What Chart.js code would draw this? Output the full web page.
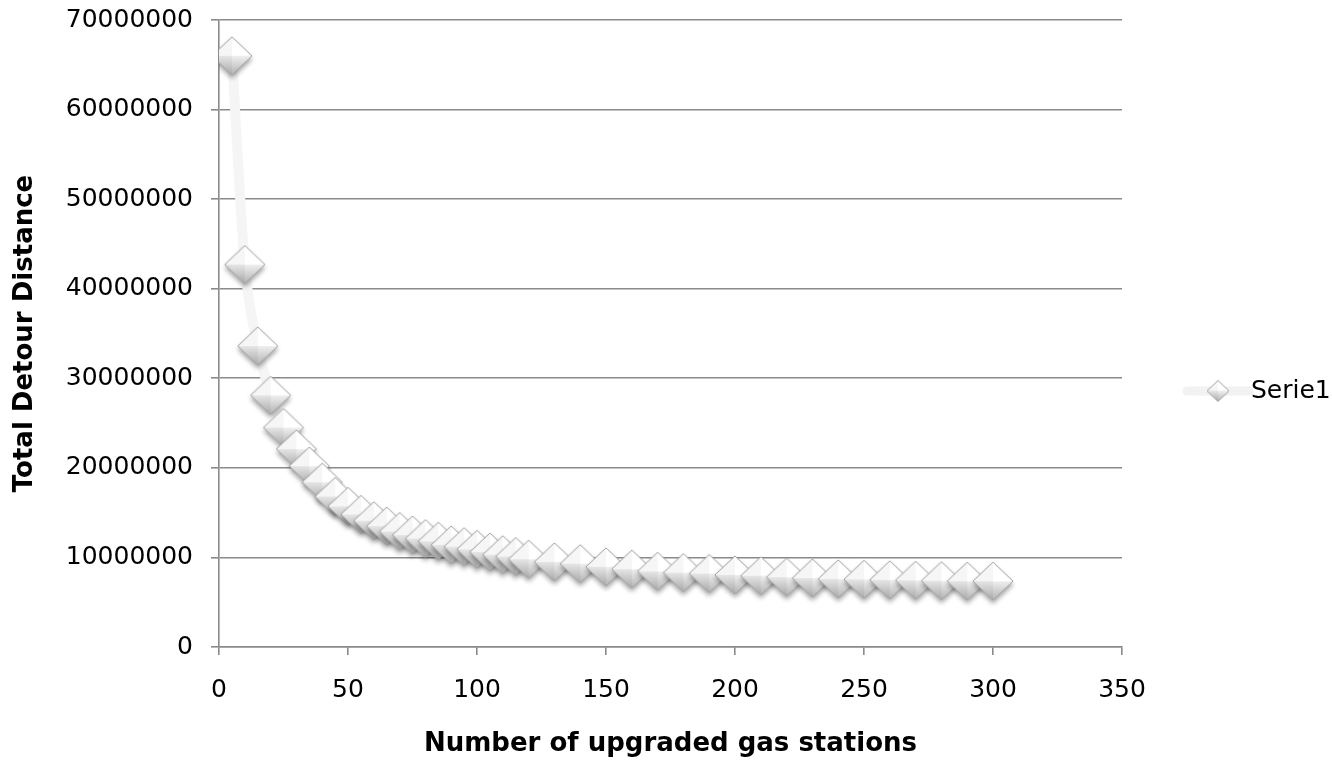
<!DOCTYPE html>
<html lang="en">
<head>
<meta charset="UTF-8">
<title>Total Detour Distance</title>
<script src="https://cdn.jsdelivr.net/npm/chart.js"></script>
<style>
    html, body { margin: 0; padding: 0; background: #fff; }
    #detourChart { display: block; }
</style>
</head>
<body>
<canvas id="detourChart" width="1332" height="761"></canvas>
<script>
// number of upgraded stations and the total detour for each run
const stations = [5, 10, 15, 20, 25, 30, 35, 40, 45, 50, 55, 60, 65, 70, 75, 80, 85, 90, 95, 100,
    105, 110, 115, 120, 130, 140, 150, 160, 170, 180, 190, 200, 210, 220, 230, 240, 250, 260, 270, 280, 290, 300];
const detour = [66000000, 42700000, 33600000, 28100000, 24500000, 22100000, 20200000, 18400000, 16800000, 15700000,
    14800000, 14100000, 13500000, 12900000, 12500000, 12100000, 11800000, 11400000, 11200000, 10900000,
    10600000, 10300000, 10100000, 9800000, 9500000, 9300000, 8950000, 8700000, 8450000, 8300000,
    8200000, 8050000, 7950000, 7800000, 7700000, 7600000, 7550000, 7500000, 7450000, 7400000, 7350000, 7350000];
const xTicks = [0, 50, 100, 150, 200, 250, 300, 350];
const yTicks = [0, 10000000, 20000000, 30000000, 40000000, 50000000, 60000000, 70000000];
const seriesName = 'Serie1';

const axisGrey = '#8a8a8a';
const font = 'DejaVu Sans';

// bevelled diamond marker, drawn once into its own canvas
function makeDiamond(w, h, blur) {
    const pad = blur ? 9 : 2;
    const c = document.createElement('canvas');
    c.width = w + pad * 2;
    c.height = h + pad * 2;
    const g = c.getContext('2d');
    const cx = c.width / 2, cy = c.height / 2;
    const top = [cx, cy - h / 2], right = [cx + w / 2, cy], bottom = [cx, cy + h / 2], left = [cx - w / 2, cy];
    const poly = (pts) => {
        g.beginPath();
        g.moveTo(pts[0][0], pts[0][1]);
        pts.slice(1).forEach(p => g.lineTo(p[0], p[1]));
        g.closePath();
    };

    g.save();
    if (blur) {
        g.shadowColor = 'rgba(0,0,0,0.38)';
        g.shadowBlur = blur;
        g.shadowOffsetY = blur * 0.7;
    }
    poly([top, right, bottom, left]);
    g.fillStyle = '#d6d6d6';
    g.fill();
    g.restore();

    poly([[cx, cy], left, top]);
    g.fillStyle = '#f6f6f6';
    g.fill();
    poly([[cx, cy], top, right]);
    g.fillStyle = '#ffffff';
    g.fill();

    let grad = g.createLinearGradient(0, cy, 0, cy + h / 2);
    grad.addColorStop(0, '#f0f0f0');
    grad.addColorStop(1, '#b2b2b2');
    poly([[cx, cy], right, bottom]);
    g.fillStyle = grad;
    g.fill();

    grad = g.createLinearGradient(0, cy, 0, cy + h / 2);
    grad.addColorStop(0, '#e6e6e6');
    grad.addColorStop(1, '#a8a8a8');
    poly([[cx, cy], bottom, left]);
    g.fillStyle = grad;
    g.fill();

    poly([top, right, bottom, left]);
    g.strokeStyle = '#a2a2a2';
    g.lineWidth = 1;
    g.stroke();
    return c;
}

const bigDiamond = makeDiamond(40, 38, 5);
const smallDiamond = makeDiamond(22, 21, 0);

// key on the right: faint line, small diamond, series name
const seriesKey = {
    id: 'seriesKey',
    afterDraw(chart) {
        const { ctx, chartArea } = chart;
        const y = 391;
        const x0 = chartArea.right + 65;
        ctx.save();
        ctx.strokeStyle = '#f2f2f2';
        ctx.lineWidth = 9;
        ctx.lineCap = 'round';
        ctx.beginPath();
        ctx.moveTo(x0, y);
        ctx.lineTo(x0 + 62, y);
        ctx.stroke();
        ctx.drawImage(smallDiamond, x0 + 31 - smallDiamond.width / 2, y - smallDiamond.height / 2);
        ctx.fillStyle = '#000';
        ctx.font = '25px "' + font + '"';
        ctx.textBaseline = 'middle';
        ctx.fillText(chart.data.datasets[0].label, x0 + 64, y);
        ctx.restore();
    }
};

const ctx = document.getElementById('detourChart').getContext('2d');
new Chart(ctx, {
    type: 'scatter',
    data: {
        datasets: [{
            label: seriesName,
            data: stations.map((x, i) => ({ x: x, y: detour[i] })),
            showLine: true,
            borderColor: '#f5f5f5',
            borderWidth: 10,
            borderCapStyle: 'round',
            cubicInterpolationMode: 'monotone',
            pointStyle: bigDiamond,
            pointRadius: 20,
            pointHoverRadius: 20
        }]
    },
    options: {
        responsive: false,
        animation: false,
        layout: { autoPadding: false, padding: { top: 20, right: 210, bottom: 0, left: 0 } },
        plugins: {
            legend: { display: false },
            tooltip: { enabled: false }
        },
        scales: {
            x: {
                type: 'linear',
                min: 0,
                max: 350,
                afterBuildTicks: s => { s.ticks = xTicks.map(v => ({ value: v })); },
                afterFit: s => { s.height = 114; },
                ticks: { color: '#000', padding: 20, font: { family: font, size: 25 } },
                grid: { drawOnChartArea: false, tickLength: 8, color: axisGrey, lineWidth: 1.6 },
                border: { color: axisGrey, width: 1.6 },
                title: {
                    display: true,
                    text: 'Number of upgraded gas stations',
                    color: '#000',
                    font: { family: font, size: 26, weight: 'bold' },
                    padding: { top: 0, bottom: 1 }
                }
            },
            y: {
                min: 0,
                max: 70000000,
                afterBuildTicks: s => { s.ticks = yTicks.map(v => ({ value: v })); },
                afterFit: s => {
                    s.width = 219;
                    s.paddingTop = 0;
                    s.paddingBottom = 0;
                },
                ticks: { color: '#000', padding: 18, font: { family: font, size: 25 }, callback: v => String(v) },
                grid: { tickLength: 8, color: axisGrey, lineWidth: 1.6 },
                border: { color: axisGrey, width: 1.6 },
                title: {
                    display: true,
                    text: 'Total Detour Distance',
                    color: '#000',
                    font: { family: font, size: 26, weight: 'bold' },
                    padding: { top: 10, bottom: 0 }
                }
            }
        }
    },
    plugins: [seriesKey]
});
</script>
</body>
</html>
